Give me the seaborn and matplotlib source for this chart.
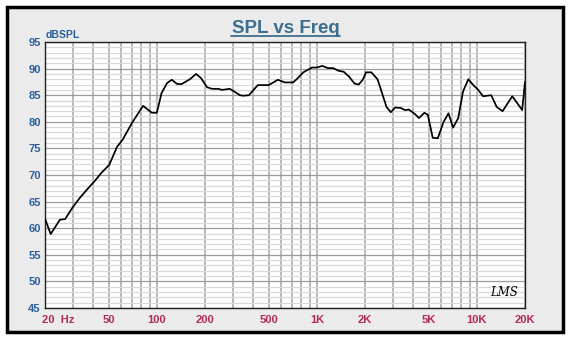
import matplotlib
matplotlib.use("Agg")
import matplotlib.pyplot as plt
import matplotlib.ticker as mticker
import matplotlib.transforms as mtransforms
from matplotlib.patches import Rectangle
from matplotlib.lines import Line2D
import seaborn as sns
import pandas as pd

# frequency response
freq = [20, 21.7, 24.8, 26.7, 29.6, 33, 37.7, 41, 45, 50.4, 56.4, 61, 70, 82, 93,
        100, 107, 116, 124, 134, 143, 161, 176, 189, 206, 221, 241, 256, 286, 331,
        346, 376, 428, 460, 500, 571, 632, 711, 748, 823, 933, 1000, 1083, 1170,
        1262, 1363, 1472, 1590, 1717, 1825, 1937, 2030, 2190, 2395, 2500, 2724,
        2900, 3090, 3350, 3560, 3760, 4090, 4350, 4700, 4940, 5300, 5700, 6200,
        6650, 7100, 7650, 8200, 8850, 9500, 10130, 10940, 11600, 12300, 13300,
        14490, 15600, 16650, 17900, 19200, 20000]
spl = [61.8, 58.9, 61.6, 61.7, 63.8, 65.7, 67.7, 68.9, 70.4, 71.9, 75.3, 76.6, 79.8,
       83.0, 81.7, 81.7, 85.4, 87.3, 87.9, 87.1, 87.1, 88.0, 89.0, 88.2, 86.5, 86.2,
       86.2, 86.0, 86.2, 85.0, 84.9, 85.0, 86.9, 86.9, 86.9, 87.9, 87.4, 87.4, 88.0,
       89.3, 90.2, 90.2, 90.5, 90.1, 90.1, 89.6, 89.4, 88.5, 87.2, 87.0, 87.9, 89.3,
       89.3, 88.0, 86.3, 82.8, 81.8, 82.7, 82.6, 82.2, 82.3, 81.5, 80.7, 81.7, 81.3,
       77.0, 76.9, 80.0, 81.6, 78.9, 80.7, 85.7, 88.0, 86.9, 86.1, 84.8, 84.9, 85.0,
       82.8, 82.0, 83.5, 84.8, 83.5, 82.2, 87.5]

xticks = [20, 50, 100, 200, 500, 1000, 2000, 5000, 10000, 20000]
xlabels = ["20  Hz", "50", "100", "200", "500", "1K", "2K", "5K", "10K", "20K"]
yticks = [45, 50, 55, 60, 65, 70, 75, 80, 85, 90, 95]

sns.set_style("white")
plt.rcParams["font.family"] = ["Liberation Sans", "DejaVu Sans"]

W, H = 571, 355
fig = plt.figure(figsize=(W / 100, H / 100), dpi=100, facecolor="white")

# outer panel with black frame
fig.patches.append(Rectangle((7 / W, 1 - 332 / H), 556 / W, 325 / H,
                             transform=fig.transFigure, facecolor="#ebebeb",
                             edgecolor="black", linewidth=2.5, zorder=-10))

ax = fig.add_axes([45 / W, 1 - 308 / H, 480 / W, 266 / H])
ax.set_zorder(1)
ax.set_facecolor("white")

df = pd.DataFrame({"freq": freq, "spl": spl})
sns.lineplot(data=df, x="freq", y="spl", ax=ax, color="black", linewidth=1.25,
             estimator=None, zorder=5)

ax.set_xscale("log")
ax.set_xlim(20, 20000)
ax.set_ylim(45, 95)
ax.set_xticks(xticks)
ax.set_xticklabels(xlabels)
ax.xaxis.set_minor_locator(mticker.LogLocator(base=10, subs=range(2, 10), numticks=20))
ax.xaxis.set_minor_formatter(mticker.NullFormatter())
ax.set_yticks(yticks)
ax.yaxis.set_minor_locator(mticker.MultipleLocator(1))

ax.grid(True, which="both", axis="x", color="#adadad", linewidth=1.2)
ax.grid(True, which="major", axis="y", color="#9c9c9c", linewidth=0.9)
ax.grid(True, which="minor", axis="y", color="#d9d9d9", linewidth=0.9)
ax.set_axisbelow(True)

ax.tick_params(which="both", length=0)
ax.tick_params(axis="x", pad=5, labelsize=8, labelcolor="#b22a5c")
ax.tick_params(axis="y", pad=3, labelsize=8, labelcolor="#2b5f9a")
for lab in ax.get_xticklabels() + ax.get_yticklabels():
    lab.set_fontweight("bold")
# first label "20  Hz" starts at the left edge
first = ax.get_xticklabels()[0]
first.set_horizontalalignment("left")
first.set_transform(first.get_transform() +
                    mtransforms.ScaledTranslation(-3 / 100, 0, fig.dpi_scale_trans))
ax.set_xlabel("")
ax.set_ylabel("")

for s in ax.spines.values():
    s.set_color("#202020")
    s.set_linewidth(1)

# title with underline
fig.text(0.5, 1 - 33 / H, "SPL vs Freq", ha="center", va="baseline",
         fontsize=13.5, fontweight="bold", color="#3b6e8f")
fig.add_artist(Line2D([231 / W, 340 / W], [1 - 35.5 / H, 1 - 35.5 / H],
                      transform=fig.transFigure, color="#3b6e8f", linewidth=1.3))

fig.text(46 / W, 1 - 38 / H, "dBSPL", ha="left", va="baseline",
         fontsize=7.5, fontweight="bold", color="#2b5f9a")

ax.text(0.985, 0.035, "LMS", transform=ax.transAxes, ha="right", va="bottom",
        fontsize=8.5, fontstyle="italic", family="DejaVu Serif", color="black", zorder=6)

fig.savefig("out.png", dpi=100, facecolor="white")
